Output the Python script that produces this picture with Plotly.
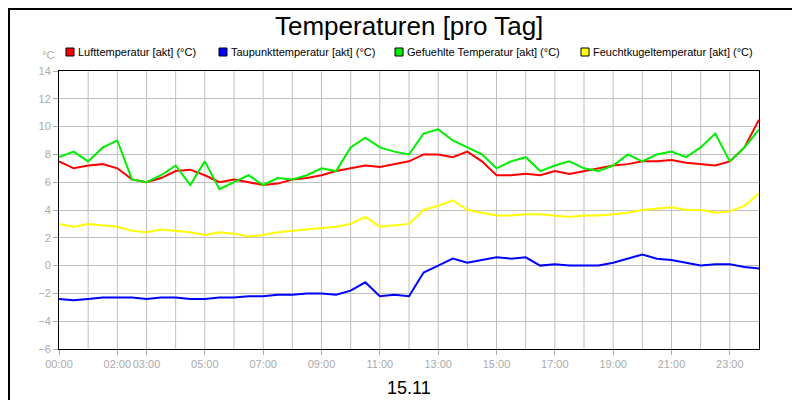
import plotly.graph_objects as go

hours = [i * 0.5 for i in range(49)]
luft = [7.5,7.0,7.2,7.3,7.0,6.2,6.0,6.3,6.8,6.9,6.5,6.0,6.2,6.0,5.8,5.9,6.2,6.3,6.5,6.8,7.0,7.2,7.1,7.3,7.5,8.0,8.0,7.8,8.2,7.5,6.5,6.5,6.6,6.5,6.8,6.6,6.8,7.0,7.2,7.3,7.5,7.5,7.6,7.4,7.3,7.2,7.5,8.5,10.5]
taupunkt = [-2.4,-2.5,-2.4,-2.3,-2.3,-2.3,-2.4,-2.3,-2.3,-2.4,-2.4,-2.3,-2.3,-2.2,-2.2,-2.1,-2.1,-2.0,-2.0,-2.1,-1.8,-1.2,-2.2,-2.1,-2.2,-0.5,0.0,0.5,0.2,0.4,0.6,0.5,0.6,0.0,0.1,0.0,0.0,0.0,0.2,0.5,0.8,0.5,0.4,0.2,0.0,0.1,0.1,-0.1,-0.2]
gefuehlt = [7.8,8.2,7.5,8.5,9.0,6.2,6.0,6.5,7.2,5.8,7.5,5.5,6.0,6.5,5.8,6.3,6.2,6.5,7.0,6.8,8.5,9.2,8.5,8.2,8.0,9.5,9.8,9.0,8.5,8.0,7.0,7.5,7.8,6.8,7.2,7.5,7.0,6.8,7.2,8.0,7.5,8.0,8.2,7.8,8.5,9.5,7.5,8.5,9.8]
feucht = [3.0,2.8,3.0,2.9,2.8,2.5,2.4,2.6,2.5,2.4,2.2,2.4,2.3,2.1,2.2,2.4,2.5,2.6,2.7,2.8,3.0,3.5,2.8,2.9,3.0,4.0,4.3,4.7,4.0,3.8,3.6,3.6,3.7,3.7,3.6,3.5,3.6,3.6,3.7,3.8,4.0,4.1,4.2,4.0,4.0,3.8,3.9,4.3,5.2]

names = ["Lufttemperatur [akt] (°C)", "Taupunkttemperatur [akt] (°C)",
         "Gefuehlte Temperatur [akt] (°C)", "Feuchtkugeltemperatur [akt] (°C)"]
colors = ["#ff0000", "#0000ff", "#00ee00", "#ffff00"]
series = [luft, taupunkt, gefuehlt, feucht]
draw_order = [3, 1, 0, 2]

tick_vals = [0, 2, 3, 5, 7, 9, 11, 13, 15, 17, 19, 21, 23]
tick_text = ["00:00", "02:00", "03:00", "05:00", "07:00", "09:00", "11:00",
             "13:00", "15:00", "17:00", "19:00", "21:00", "23:00"]

W, H, L, B = 700.0, 278.0, 51, 341
def px(x): return (x - L) / W
def py(y): return (B - y) / H

fig = go.Figure()
for i in draw_order:
    fig.add_trace(go.Scatter(x=hours, y=series[i], mode="lines",
                             line=dict(color=colors[i], width=2), showlegend=False))

legend_x = [58, 211, 387, 573]
shapes = [dict(type="rect", xref="paper", yref="paper", x0=-50 / W, x1=748 / W,
               y0=py(398), y1=py(1), line=dict(color="black", width=2), layer="below")]
shapes += [dict(type="line", xref="x", yref="paper", x0=h, x1=h, y0=0, y1=1,
                line=dict(color="#c0c0c0", width=1), layer="below") for h in range(1, 24)]
annotations = [
    dict(text="Temperaturen [pro Tag]", xref="paper", yref="paper", x=0.5, y=py(18),
         showarrow=False, yanchor="middle", font=dict(size=26, color="black")),
    dict(text="°C", xref="paper", yref="paper", x=px(48), y=py(47), showarrow=False,
         xanchor="right", yanchor="middle", font=dict(size=11, color="#aaaaaa")),
    dict(text="15.11", xref="paper", yref="paper", x=0.5, y=py(380), showarrow=False,
         yanchor="middle", font=dict(size=18, color="black")),
]
for lx, n, c in zip(legend_x, names, colors):
    shapes.append(dict(type="rect", xref="paper", yref="paper", x0=px(lx), x1=px(lx + 8),
                       y0=py(48), y1=py(40), fillcolor=c, line=dict(color="black", width=1)))
    annotations.append(dict(text=n, xref="paper", yref="paper", x=px(lx + 10), y=py(44),
                            showarrow=False, xanchor="left", yanchor="middle",
                            font=dict(size=11, color="black")))

axfont = dict(family="Liberation Sans, Arial", size=11, color="#aaaaaa")
fig.update_layout(
    width=800, height=400, paper_bgcolor="white", plot_bgcolor="white",
    margin=dict(l=51, r=49, t=63, b=59, autoexpand=False),
    font=dict(family="Liberation Sans, Arial"),
    showlegend=False,
    xaxis=dict(range=[0, 24], tickvals=tick_vals, ticktext=tick_text, tickangle=0,
               automargin=False, showgrid=False, ticks="outside", ticklen=5,
               tickcolor="#aaaaaa", tickfont=axfont, showline=True, linecolor="black",
               mirror=True, zeroline=False),
    yaxis=dict(range=[-6, 14], dtick=2, showgrid=True, gridcolor="#c0c0c0",
               automargin=False, ticks="outside", ticklen=5, tickcolor="#aaaaaa",
               tickfont=axfont, showline=True, linecolor="black", mirror=True,
               zeroline=False),
    annotations=annotations,
    shapes=shapes,
)
fig.write_html("out.html")
